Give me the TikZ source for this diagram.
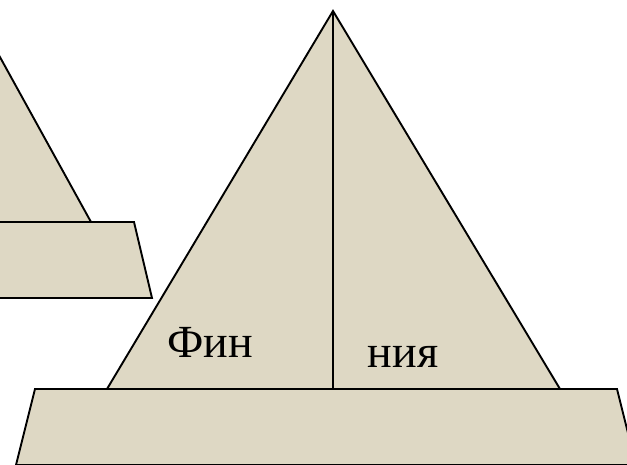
\documentclass[tikz,border=0pt]{standalone}
\usepackage{fontspec}
\setmainfont{Liberation Serif}
\usepackage{tikz}
\usetikzlibrary{positioning}
\definecolor{sand}{RGB}{222,216,196}

\begin{document}
\begin{tikzpicture}[x=1pt, y=-1pt,
  part/.style={draw=black, fill=sand, line width=1.9pt, line join=miter},
  word/.style={font=\fontsize{46}{50}\selectfont, inner sep=0pt, anchor=base}]
\useasboundingbox (0,0) rectangle (627,464);
\clip (0,0) rectangle (627,464);
% small figure, cut at the left edge
\filldraw[part] (-10,39) -- (91,222) -- (-10,222) -- cycle;
\filldraw[part] (-10,222) -- (134,222) -- (152,298) -- (-10,298) -- cycle;
% large figure
\filldraw[part] (333,11) -- (560,389) -- (107,389) -- cycle;
\coordinate (apex) at (333,11);
\coordinate (foot) at (333,389);
\draw[line width=1.6pt] (apex) -- (foot);
\filldraw[part] (35,389) -- (617,389) -- (636,465) -- (16,465) -- cycle;
\node[word] (left) at (210,357) {Фин};
\node[word] (right) at (403,367) {ния};
\end{tikzpicture}
\end{document}
